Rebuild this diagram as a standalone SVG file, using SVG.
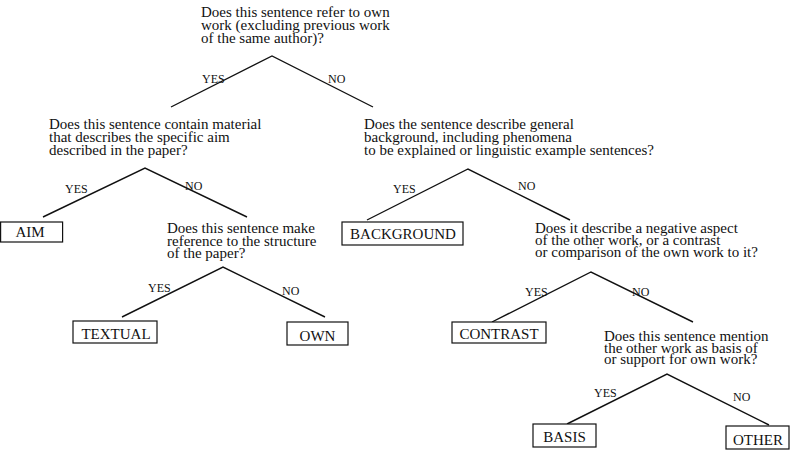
<svg xmlns="http://www.w3.org/2000/svg" width="790" height="456" viewBox="0 0 790 456">
<style>
text{font-family:"Liberation Serif","Times New Roman",serif;fill:#111}
.q{font-size:15px}
.l{font-size:12px}
.b{font-size:15px;text-anchor:middle}
.edge{stroke:#111;stroke-width:1.4;fill:none}
.box{fill:#fff;stroke:#111;stroke-width:1.2}
</style>
<rect width="790" height="456" fill="#fff"/>
<g id="connectors">
<path class="edge" d="M171,107 L272,56 L373,107"/>
<path class="edge" d="M43,217 L145,168 L247,217"/>
<path class="edge" d="M367,220 L468,169 L570,220"/>
<path class="edge" d="M122,317 L223,267 L325,317"/>
<path class="edge" d="M492,322 L591,272 L693,322"/>
<path class="edge" d="M567,424 L667,374 L769,425"/>
<text class="l" x="202" y="83">YES</text><text class="l" x="328" y="83">NO</text>
<text class="l" x="65" y="193">YES</text><text class="l" x="185" y="190">NO</text>
<text class="l" x="393" y="193">YES</text><text class="l" x="518" y="190">NO</text>
<text class="l" x="148" y="292">YES</text><text class="l" x="282" y="295">NO</text>
<text class="l" x="525" y="296">YES</text><text class="l" x="632" y="296">NO</text>
<text class="l" x="594" y="397">YES</text><text class="l" x="733" y="401">NO</text>
</g>
<g id="q1"><text class="q" x="201"><tspan x="201" y="17">Does this sentence refer to own</tspan><tspan x="201" y="30">work (excluding previous work</tspan><tspan x="201" y="43">of the same author)?</tspan></text></g>
<g id="q2"><text class="q"><tspan x="49" y="129">Does this sentence contain material</tspan><tspan x="49" y="142">that describes the specific aim</tspan><tspan x="49" y="155">described in the paper?</tspan></text></g>
<g id="q3"><text class="q"><tspan x="364" y="129">Does the sentence describe general</tspan><tspan x="364" y="142">background, including phenomena</tspan><tspan x="364" y="155">to be explained or linguistic example sentences?</tspan></text></g>
<g id="q4"><text class="q"><tspan x="167" y="233">Does this sentence make</tspan><tspan x="167" y="246">reference to the structure</tspan><tspan x="167" y="258">of the paper?</tspan></text></g>
<g id="q5"><text class="q"><tspan x="535" y="233">Does it describe a negative aspect</tspan><tspan x="535" y="245">of the other work, or a contrast</tspan><tspan x="535" y="257">or comparison of the own work to it?</tspan></text></g>
<g id="q6"><text class="q"><tspan x="604" y="341">Does this sentence mention</tspan><tspan x="604" y="353">the other work as basis of</tspan><tspan x="604" y="364">or support for own work?</tspan></text></g>
<g id="aim"><rect class="box" x="0.6" y="222" width="62" height="20"/><text class="b" x="30" y="237">AIM</text></g>
<g id="background"><rect class="box" x="342" y="222" width="121" height="23"/><text class="b" x="403" y="239">BACKGROUND</text></g>
<g id="textual"><rect class="box" x="73" y="321" width="84" height="22"/><text class="b" x="116" y="339">TEXTUAL</text></g>
<g id="own"><rect class="box" x="287" y="322" width="61" height="23"/><text class="b" x="317.5" y="341">OWN</text></g>
<g id="contrast"><rect class="box" x="452" y="322" width="94" height="21"/><text class="b" x="499" y="339">CONTRAST</text></g>
<g id="basis"><rect class="box" x="533" y="424" width="63" height="23"/><text class="b" x="564.5" y="442">BASIS</text></g>
<g id="other"><rect class="box" x="726" y="426" width="63" height="23"/><text class="b" x="758" y="445">OTHER</text></g>
</svg>
